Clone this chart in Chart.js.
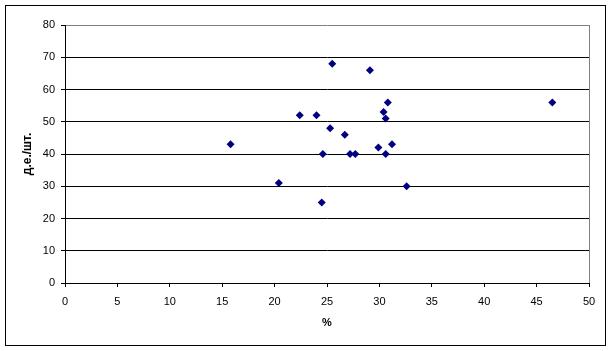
<!DOCTYPE html>
<html>
<head>
<meta charset="utf-8">
<script src="https://cdn.jsdelivr.net/npm/chart.js@4.4.0/dist/chart.umd.min.js"></script>
<style>
    html, body { margin: 0; padding: 0; background: #fff; }
    #wrap { width: 614px; height: 351px; position: relative; }
</style>
</head>
<body>
<div id="wrap"><canvas id="scatterChart" width="614" height="351"></canvas></div>
<script>
// Percent values (x) and price per piece (y)
const xValues = [25.5, 29.1, 30.8, 30.4, 30.6, 22.4, 24.0, 25.3, 26.7, 15.8,
                 29.9, 31.2, 24.6, 27.2, 27.7, 30.6, 20.4, 32.6, 24.5, 46.5];
const yValues = [68, 66, 56, 53, 51, 52, 52, 48, 46, 43,
                 42, 43, 40, 40, 40, 40, 31, 30, 25, 56];

const xTitle = '%';
const yTitle = 'д.е./шт.';

Chart.defaults.font.family = '"Liberation Sans", Arial, sans-serif';
Chart.defaults.font.size = 11;
Chart.defaults.color = '#000';

// Outer frame and the grey right edge of the plot area
const framePlugin = {
    id: 'frame',
    beforeDraw(chart) {
        const ctx = chart.ctx;
        ctx.save();
        ctx.fillStyle = '#fff';
        ctx.fillRect(0, 0, chart.width, chart.height);
        ctx.strokeStyle = '#000';
        ctx.lineWidth = 1;
        ctx.strokeRect(5.5, 5.5, 600, 340);
        ctx.restore();
    },
    afterDatasetsDraw(chart) {
        const a = chart.chartArea;
        const ctx = chart.ctx;
        ctx.save();
        ctx.strokeStyle = '#808080';
        ctx.lineWidth = 1;
        ctx.beginPath();
        ctx.moveTo(Math.round(a.right) + 0.5, Math.round(a.top));
        ctx.lineTo(Math.round(a.right) + 0.5, Math.round(a.bottom));
        ctx.stroke();
        ctx.restore();
    }
};

const points = xValues.map((x, i) => ({ x: x, y: yValues[i] }));

new Chart(document.getElementById('scatterChart').getContext('2d'), {
    type: 'scatter',
    data: {
        datasets: [{
            data: points,
            pointStyle: 'rectRot',
            pointRadius: 4,
            backgroundColor: '#000080',
            borderColor: '#000080',
            borderWidth: 0
        }]
    },
    options: {
        responsive: false,
        animation: false,
        layout: { padding: { top: 25, right: 25, left: 0, bottom: 0 } },
        plugins: {
            legend: { display: false },
            tooltip: { enabled: false }
        },
        scales: {
            x: {
                type: 'linear',
                min: 0,
                max: 50,
                afterFit(scale) { scale.height = 68; },
                ticks: { stepSize: 5, padding: 8, maxRotation: 0 },
                grid: {
                    color: 'rgba(0,0,0,0)',
                    tickColor: '#000',
                    tickLength: 4,
                    drawTicks: true
                },
                border: { color: '#000', width: 1 },
                title: {
                    display: true,
                    text: xTitle,
                    font: { weight: 'bold', size: 11 },
                    padding: { top: 0, bottom: 21 }
                }
            },
            y: {
                min: 0,
                max: 80,
                afterFit(scale) { scale.width = 65; },
                ticks: { stepSize: 10, padding: 6 },
                grid: {
                    color: ctx => ctx.tick && ctx.tick.value === 80 ? '#808080' : '#000',
                    tickColor: '#000',
                    tickLength: 4
                },
                border: { color: '#000', width: 1 },
                title: {
                    display: true,
                    text: yTitle,
                    font: { weight: 'bold', size: 12 },
                    padding: { top: 20, bottom: 0 }
                }
            }
        }
    },
    plugins: [framePlugin]
});
</script>
</body>
</html>
